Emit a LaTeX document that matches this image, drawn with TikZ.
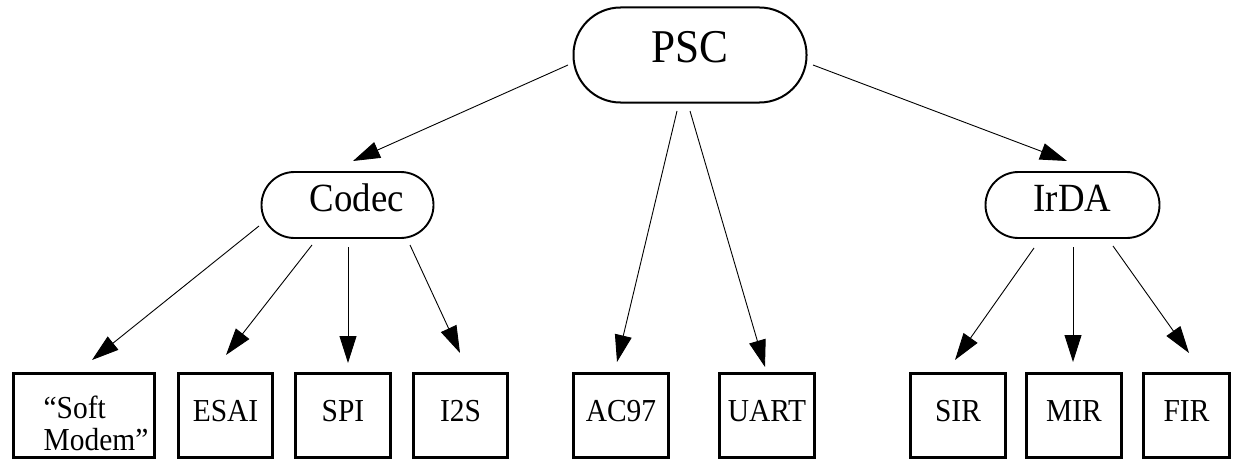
\documentclass[tikz,border=0pt]{standalone}
\usepackage{fontspec}
\setmainfont{Liberation Serif}[FakeStretch=0.92]
\usetikzlibrary{arrows.meta,calc}
\begin{document}
\begin{tikzpicture}[x=1pt,y=1pt,
  every node/.style={inner sep=0pt, outer sep=0pt},
  topbox/.style={draw, line width=2pt, rounded corners=47pt, minimum width=233pt, minimum height=95pt, font=\fontsize{47}{50}\selectfont, text height=31pt, text depth=15pt},
  midbox/.style={draw, line width=1.9pt, rounded corners=33pt, minimum width=172pt, minimum height=66pt, font=\fontsize{40}{44}\selectfont, text height=27pt, text depth=15pt},
  leaf/.style={draw, line width=2.8pt, minimum width=#1, minimum height=84.5pt, font=\fontsize{32}{32}\selectfont, text height=21pt, text depth=10pt},
  leaf/.default=94.5pt,
  arr/.style={-{Triangle[length=27pt,width=17pt]}, line width=0.9pt}]
\useasboundingbox (0,0) rectangle (1233,-460);

\node[topbox] (psc) at (690,-55) {PSC};
\node[midbox] (codec) at (347.5,-205) {\hspace*{19pt}Codec};
\node[midbox, minimum width=174pt] (irda) at (1072.5,-205) {IrDA};

\node[leaf=141.5pt, text height=25pt, text depth=20pt] (soft) at (84,-415.5)
  {\hspace*{24pt}\vtop{\baselineskip=32pt\hbox{“Soft}\hbox{Modem”}}};
\node[leaf] (esai) at (225.5,-415.5) {ESAI};
\node[leaf] (spi) at (343,-415.5) {SPI};
\node[leaf] (i2s) at (460.5,-415.5) {I2S};
\node[leaf] (ac97) at (621,-415.5) {AC97};
\node[leaf] (uart) at (767,-415.5) {UART};
\node[leaf] (sir) at (958,-415.5) {SIR};
\node[leaf] (mir) at (1074,-415.5) {MIR};
\node[leaf=86.5pt] (fir) at (1186.5,-415.5) {FIR};

\draw[arr] ($(psc)+(-122,-10)$) -- ($(codec)+(5.5,44)$);
\draw[arr] ($(psc)+(123,-10)$) -- ($(irda)+(-5.5,44)$);
\draw[arr] ($(psc)+(-13,-56)$) -- ($(ac97)+(-4,53.5)$);
\draw[arr] ($(psc)+(0,-56)$) -- ($(uart)+(-2,48.5)$);

\draw[arr] ($(codec)+(-88.5,-21)$) -- ($(soft)+(8,55.5)$);
\draw[arr] ($(codec)+(-35.5,-40)$) -- ($(esai)+(0.5,60.5)$);
\draw[arr] ($(codec)+(0.5,-42)$) -- ($(spi)+(5,52.5)$);
\draw[arr] ($(codec)+(62.5,-40)$) -- ($(i2s)+(-0.5,62.5)$);

\draw[arr] ($(irda)+(-38.5,-43)$) -- ($(sir)+(-3,55.5)$);
\draw[arr] ($(irda)+(0.5,-42)$) -- ($(mir)+(-1,53.5)$);
\draw[arr] ($(irda)+(40.5,-41)$) -- ($(fir)+(2.5,62.5)$);
\end{tikzpicture}
\end{document}
